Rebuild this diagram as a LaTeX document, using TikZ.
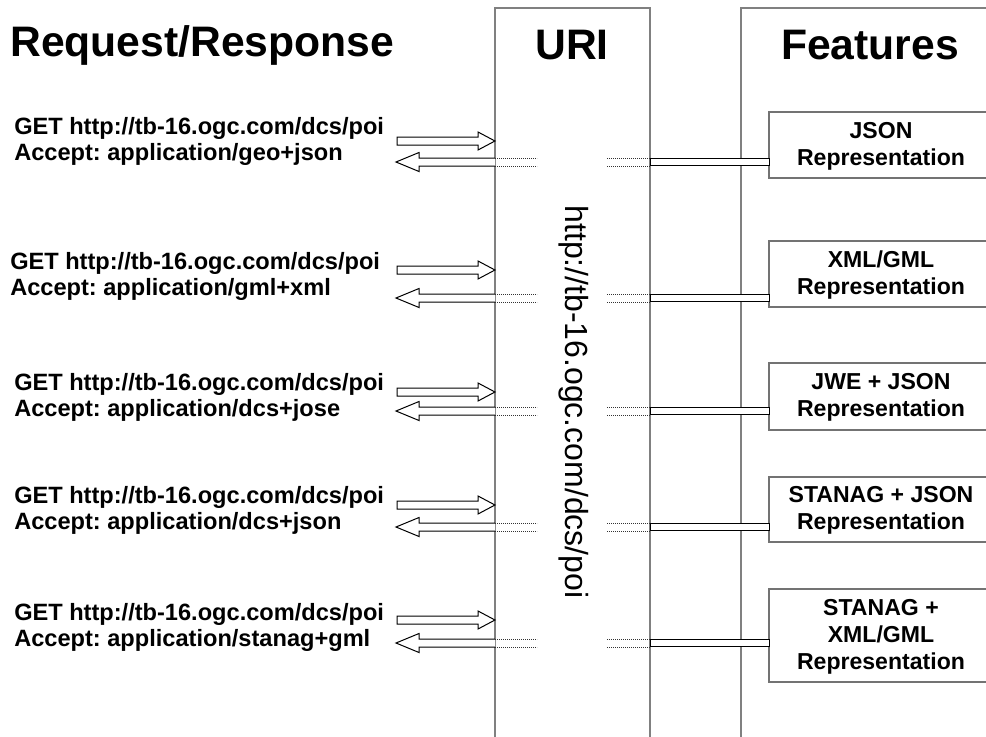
\documentclass[tikz,border=0pt]{standalone}
\usepackage{fontspec}
\setmainfont{Liberation Sans}
\frenchspacing
\begin{document}
\begin{tikzpicture}[x=0.75pt,y=-0.75pt,
  colline/.style={draw=black!50,line width=1.5pt},
  boxline/.style={draw=black!55,line width=1.5pt},
  blockarrow/.style={draw=black,line width=0.75pt,fill=white},
  dotline/.style={draw=black!80,line width=0.5pt,dash pattern=on 0.6pt off 0.9pt},
  title/.style={font=\fontsize{32}{36}\selectfont\bfseries,inner sep=0pt},
  req/.style={font=\fontsize{17.7}{19.5}\selectfont\bfseries,align=left,anchor=west,inner sep=0pt},
  feat/.style={font=\fontsize{17.3}{20.3}\selectfont\bfseries,align=center,inner sep=0pt}]
\useasboundingbox (0,0) rectangle (986,736);
% columns
\draw[colline] (495,745) -- (495,8) -- (650,8) -- (650,745);
\draw[colline] (741,745) -- (741,8) -- (995,8);
% titles
\node[title,anchor=west] (treq) at (10,45) {Request/Response};
\node[title] (turi) at (572,45) {URI};
\node[title] (tfeat) at (870,45) {Features};
% vertical URI
\node[font=\fontsize{24}{28}\selectfont,rotate=-90,inner sep=0pt] (uri) at (574,402) {http://tb-16.ogc.com/dcs/poi};
% rows
\foreach \i/\ty/\tx/\ra/\la/\bt/\bb/\rq/\ft in {
  1/141/14/141/162/112/178/{GET http://tb-16.ogc.com/dcs/poi\\Accept: application/geo+json}/{JSON\\Representation},
  2/276/10/270/298/241/307/{GET http://tb-16.ogc.com/dcs/poi\\Accept: application/gml+xml}/{XML/GML\\Representation},
  3/397/14/392/411/363/430/{GET http://tb-16.ogc.com/dcs/poi\\Accept: application/dcs+jose}/{JWE + JSON\\Representation},
  4/510/14/505/527/477/542/{GET http://tb-16.ogc.com/dcs/poi\\Accept: application/dcs+json}/{STANAG + JSON\\Representation},
  5/627/14/620/643/589/682/{GET http://tb-16.ogc.com/dcs/poi\\Accept: application/stanag+gml}/{STANAG +\\XML/GML\\Representation}}{
  \node[req] (rq\i) at (\tx,\ty) {\rq};
  \draw[boxline] (995,\bt) -- (769,\bt) -- (769,\bb) -- (995,\bb);
  \node[feat] (ft\i) at (881,{(\bt+\bb)/2+1}) {\ft};
  \coordinate (fl\i) at (769,\la);
  % request arrow
  \draw[blockarrow] (397,\ra-4) -- (478,\ra-4) -- (478,\ra-9) -- (495,\ra)
     -- (478,\ra+9) -- (478,\ra+4) -- (397,\ra+4) -- cycle;
  % response arrow
  \draw[blockarrow] (495,\la-4) -- (419,\la-4) -- (419,\la-9.5) -- (396,\la)
     -- (419,\la+9.5) -- (419,\la+4) -- (495,\la+4);
  \draw[dotline] (495,\la-4) -- (537,\la-4) (495,\la+4) -- (537,\la+4);
  \draw[dotline] (607,\la-4) -- (650,\la-4) (607,\la+4) -- (650,\la+4);
  \draw[blockarrow] (650,\la-3.5) rectangle (fl\i |- 0,\la+3.5);
}
\end{tikzpicture}
\end{document}
